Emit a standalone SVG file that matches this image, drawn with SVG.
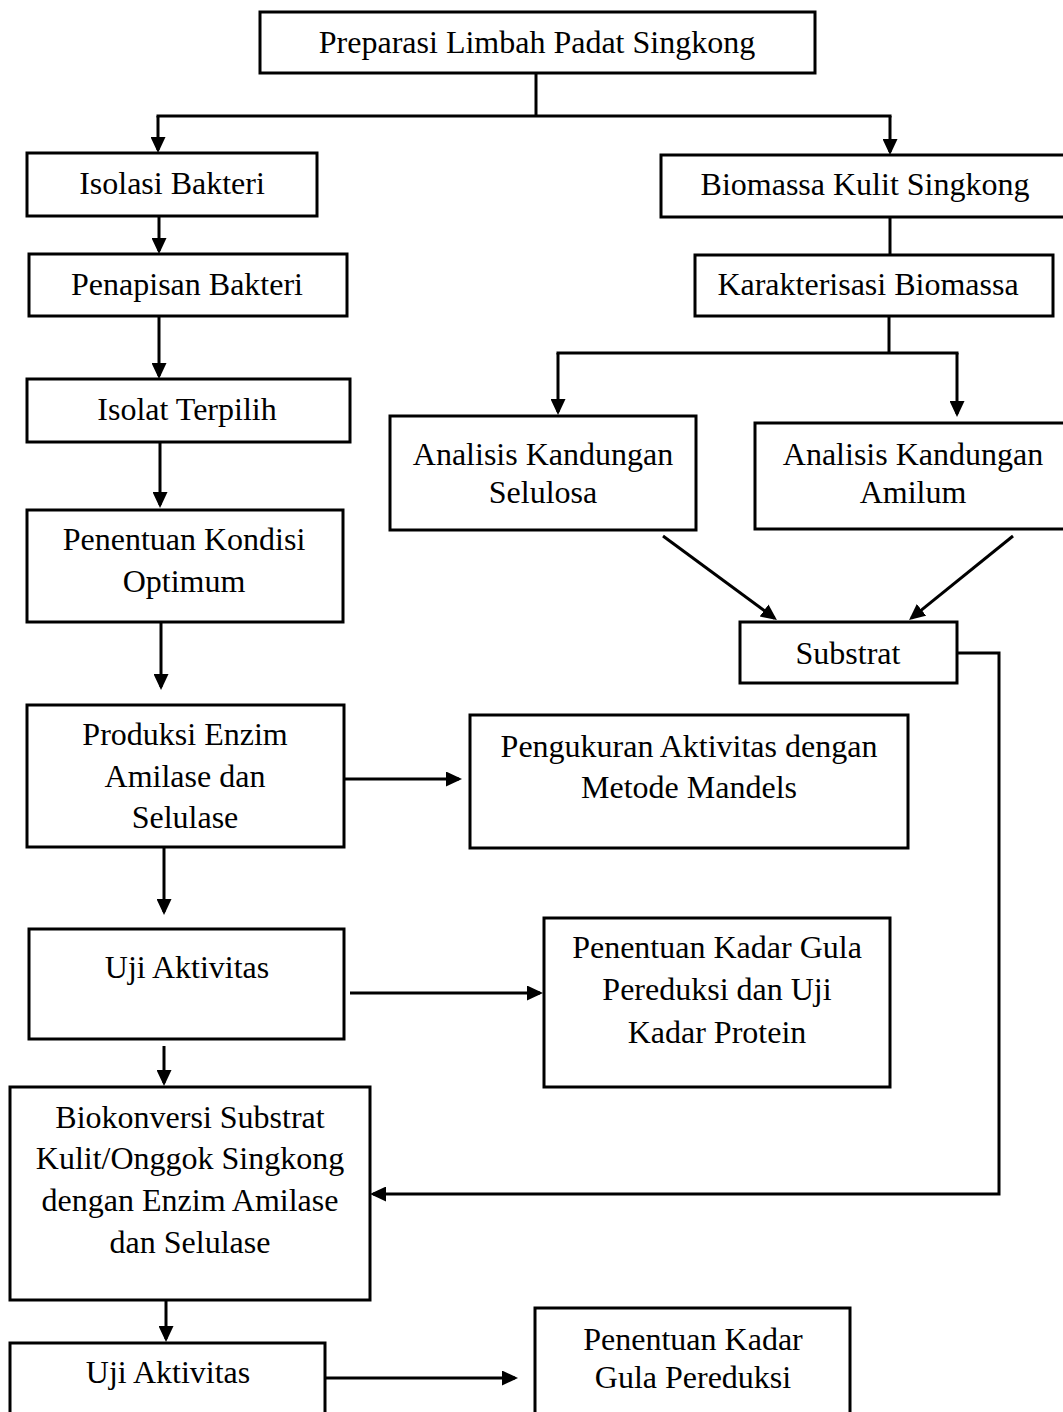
<svg xmlns="http://www.w3.org/2000/svg" width="1063" height="1412" viewBox="0 0 1063 1412">
<style>
.box{fill:#fff;stroke:#000;stroke-width:3}
.t{font-family:"Liberation Serif","Times New Roman",serif;font-size:32px;fill:#000;text-anchor:middle}
.c{fill:none;stroke:#000;stroke-width:3}
</style>
<defs>
<marker id="ah" markerUnits="userSpaceOnUse" markerWidth="16" markerHeight="15" refX="13" refY="7.5" orient="auto">
<path d="M0,0 L16,7.5 L0,15 z" fill="#000"/>
</marker>
</defs>
<rect width="1063" height="1412" fill="#fff"/>
<g id="connectors">
<line class="c" x1="536" y1="73" x2="536" y2="116"/>
<line class="c" x1="156.5" y1="116" x2="891.5" y2="116"/>
<line class="c" x1="158" y1="116" x2="158" y2="150" marker-end="url(#ah)"/>
<line class="c" x1="890" y1="116" x2="890" y2="152" marker-end="url(#ah)"/>
<line class="c" x1="159" y1="216" x2="159" y2="251" marker-end="url(#ah)"/>
<line class="c" x1="159" y1="316" x2="159" y2="376" marker-end="url(#ah)"/>
<line class="c" x1="160" y1="442" x2="160" y2="505" marker-end="url(#ah)"/>
<line class="c" x1="161" y1="622" x2="161" y2="687" marker-end="url(#ah)"/>
<line class="c" x1="344" y1="779" x2="459" y2="779" marker-end="url(#ah)"/>
<line class="c" x1="164" y1="847" x2="164" y2="912" marker-end="url(#ah)"/>
<line class="c" x1="350" y1="993" x2="540" y2="993" marker-end="url(#ah)"/>
<line class="c" x1="164" y1="1046" x2="164" y2="1083" marker-end="url(#ah)"/>
<line class="c" x1="166" y1="1300" x2="166" y2="1339" marker-end="url(#ah)"/>
<line class="c" x1="325" y1="1378" x2="515" y2="1378" marker-end="url(#ah)"/>
<line class="c" x1="890" y1="217" x2="890" y2="255"/>
<line class="c" x1="889" y1="316" x2="889" y2="353"/>
<line class="c" x1="556.5" y1="353" x2="958.5" y2="353"/>
<line class="c" x1="558" y1="353" x2="558" y2="412" marker-end="url(#ah)"/>
<line class="c" x1="957" y1="353" x2="957" y2="414" marker-end="url(#ah)"/>
<line class="c" x1="663" y1="536" x2="774.5" y2="618.2" marker-end="url(#ah)"/>
<line class="c" x1="1013" y1="536" x2="911.4" y2="618.1" marker-end="url(#ah)"/>
<path class="c" d="M956,653 H999 V1194 H373" marker-end="url(#ah)"/>
</g>
<g id="n-preparasi">
<rect class="box" x="260" y="12" width="555" height="61"/>
<text class="t" x="537" y="53">Preparasi Limbah Padat Singkong</text>
</g>
<g id="n-isolasi">
<rect class="box" x="27" y="153" width="290" height="63"/>
<text class="t" x="172" y="194">Isolasi Bakteri</text>
</g>
<g id="n-biomassa">
<rect class="box" x="661" y="155" width="420" height="62"/>
<text class="t" x="865" y="195">Biomassa Kulit Singkong</text>
</g>
<g id="n-penapisan">
<rect class="box" x="29" y="254" width="318" height="62"/>
<text class="t" x="187" y="295">Penapisan Bakteri</text>
</g>
<g id="n-karakterisasi">
<rect class="box" x="695" y="255" width="358" height="61"/>
<text class="t" x="868" y="295">Karakterisasi Biomassa</text>
</g>
<g id="n-isolat">
<rect class="box" x="27" y="379" width="323" height="63"/>
<text class="t" x="187" y="420">Isolat Terpilih</text>
</g>
<g id="n-selulosa">
<rect class="box" x="390" y="416" width="306" height="114"/>
<text class="t" x="543" y="465">Analisis Kandungan</text>
<text class="t" x="543" y="503">Selulosa</text>
</g>
<g id="n-amilum">
<rect class="box" x="755" y="423" width="320" height="106"/>
<text class="t" x="913" y="465">Analisis Kandungan</text>
<text class="t" x="913" y="503">Amilum</text>
</g>
<g id="n-kondisi">
<rect class="box" x="27" y="510" width="316" height="112"/>
<text class="t" x="184" y="550">Penentuan Kondisi</text>
<text class="t" x="184" y="592">Optimum</text>
</g>
<g id="n-substrat">
<rect class="box" x="740" y="622" width="217" height="61"/>
<text class="t" x="848" y="664">Substrat</text>
</g>
<g id="n-produksi">
<rect class="box" x="27" y="705" width="317" height="142"/>
<text class="t" x="185" y="745">Produksi Enzim</text>
<text class="t" x="185" y="787">Amilase dan</text>
<text class="t" x="185" y="828">Selulase</text>
</g>
<g id="n-pengukuran">
<rect class="box" x="470" y="715" width="438" height="133"/>
<text class="t" x="689" y="757">Pengukuran Aktivitas dengan</text>
<text class="t" x="689" y="798">Metode Mandels</text>
</g>
<g id="n-uji1">
<rect class="box" x="29" y="929" width="315" height="110"/>
<text class="t" x="187" y="978">Uji Aktivitas</text>
</g>
<g id="n-kadar-protein">
<rect class="box" x="544" y="918" width="346" height="169"/>
<text class="t" x="717" y="958">Penentuan Kadar Gula</text>
<text class="t" x="717" y="1000">Pereduksi dan Uji</text>
<text class="t" x="717" y="1043">Kadar Protein</text>
</g>
<g id="n-biokonversi">
<rect class="box" x="10" y="1087" width="360" height="213"/>
<text class="t" x="190" y="1128">Biokonversi Substrat</text>
<text class="t" x="190" y="1169">Kulit/Onggok Singkong</text>
<text class="t" x="190" y="1211">dengan Enzim Amilase</text>
<text class="t" x="190" y="1253">dan Selulase</text>
</g>
<g id="n-uji2">
<rect class="box" x="10" y="1343" width="315" height="90"/>
<text class="t" x="168" y="1383">Uji Aktivitas</text>
</g>
<g id="n-kadar-gula">
<rect class="box" x="535" y="1308" width="315" height="125"/>
<text class="t" x="693" y="1350">Penentuan Kadar</text>
<text class="t" x="693" y="1388">Gula Pereduksi</text>
</g>
</svg>
